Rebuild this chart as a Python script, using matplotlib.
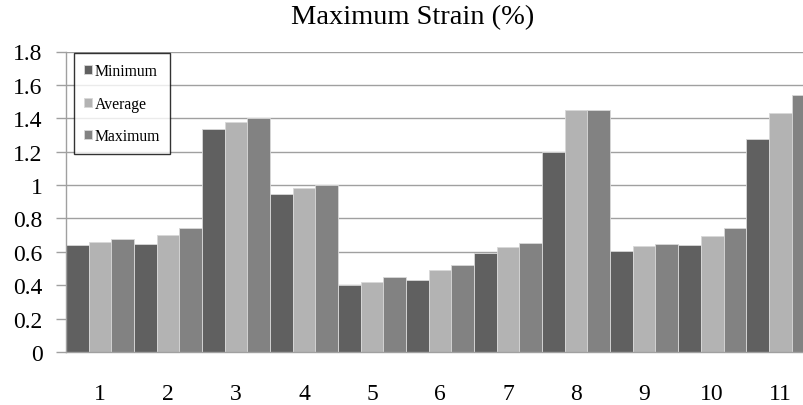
import numpy as np
import matplotlib.pyplot as plt

# data
categories = ["1", "2", "3", "4", "5", "6", "7", "8", "9", "10", "11"]
minimum = [0.64, 0.645, 1.335, 0.946, 0.40, 0.432, 0.594, 1.196, 0.603, 0.642, 1.276]
average = [0.658, 0.70, 1.38, 0.984, 0.42, 0.494, 0.626, 1.452, 0.635, 0.697, 1.43]
maximum = [0.678, 0.744, 1.40, 1.003, 0.448, 0.521, 0.654, 1.452, 0.647, 0.743, 1.538]
y_ticks = [0, 0.2, 0.4, 0.6, 0.8, 1, 1.2, 1.4, 1.6, 1.8]
y_labels = ["0", "0.2", "0.4", "0.6", "0.8", "1", "1.2", "1.4", "1.6", "1.8"]

plt.rcParams["font.family"] = ["Liberation Serif", "DejaVu Serif"]

fig = plt.figure(figsize=(8.04, 4.06), dpi=100)
ax = fig.add_axes([66 / 804, 53 / 406, 1 - 66 / 804, 300.5 / 406])

x = np.arange(len(categories))
w = 1 / 3
series = [("Minimum", minimum, "#606060"),
          ("Average", average, "#b3b3b3"),
          ("Maximum", maximum, "#828282")]
for i, (name, vals, col) in enumerate(series):
    ax.bar(x + (i - 1) * w, vals, width=w, color=col, label=name,
           edgecolor="#d8d8d8", linewidth=0.6, zorder=2)

ax.set_xlim(-0.5, 10.35)
ax.set_ylim(0, 1.8)
ax.set_yticks(y_ticks)
ax.set_yticklabels(y_labels, fontsize=17)
ax.set_xticks(x)
ax.set_xticklabels(categories, fontsize=17)
ax.tick_params(axis="x", length=0, pad=22)
ax.tick_params(axis="y", length=7, width=1, color="#a0a0a0", pad=10)

ax.grid(axis="y", color="#a0a0a0", linewidth=1, zorder=0)
ax.set_axisbelow(True)
for side in ["top", "right"]:
    ax.spines[side].set_visible(False)
for side in ["left", "bottom"]:
    ax.spines[side].set_color("#a0a0a0")
    ax.spines[side].set_linewidth(1)

leg = ax.legend(loc="upper left", bbox_to_anchor=(74 / 804, 1 - 54 / 406),
                bbox_transform=fig.transFigure, fontsize=11.3, frameon=True,
                fancybox=False, edgecolor="black", handlelength=0.5,
                handleheight=0.5, handletextpad=0.15, labelspacing=1.05,
                borderpad=0.65, borderaxespad=0)
leg.get_frame().set_linewidth(1)

fig.text(413 / 804, 1 - 18 / 406, "Maximum Strain (%)", fontsize=20.5,
         ha="center", va="center")

fig.savefig("out.png", dpi=100)
